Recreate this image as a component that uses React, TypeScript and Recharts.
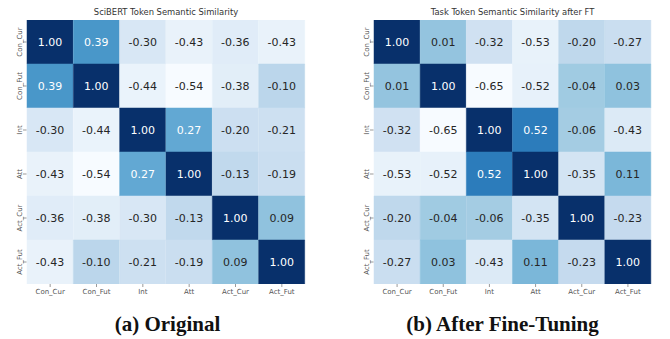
import React from 'react';
import { BarChart, Bar, XAxis, YAxis, Cell, LabelList } from 'recharts';

const labels = ['Con_Cur', 'Con_Fut', 'Int', 'Att', 'Act_Cur', 'Act_Fut'];

const scibertMatrix = [
  [1.0, 0.39, -0.3, -0.43, -0.36, -0.43],
  [0.39, 1.0, -0.44, -0.54, -0.38, -0.1],
  [-0.3, -0.44, 1.0, 0.27, -0.2, -0.21],
  [-0.43, -0.54, 0.27, 1.0, -0.13, -0.19],
  [-0.36, -0.38, -0.3, -0.13, 1.0, 0.09],
  [-0.43, -0.1, -0.21, -0.19, 0.09, 1.0],
];

const taskMatrix = [
  [1.0, 0.01, -0.32, -0.53, -0.2, -0.27],
  [0.01, 1.0, -0.65, -0.52, -0.04, 0.03],
  [-0.32, -0.65, 1.0, 0.52, -0.06, -0.43],
  [-0.53, -0.52, 0.52, 1.0, -0.35, 0.11],
  [-0.2, -0.04, -0.06, -0.35, 1.0, -0.23],
  [-0.27, 0.03, -0.43, 0.11, -0.23, 1.0],
];

const titles = ['SciBERT Token Semantic Similarity', 'Task Token Semantic Similarity after FT'];
const captions = ['(a) Original', '(b) After Fine-Tuning'];

const BLUES = ['#f7fbff', '#deebf7', '#c6dbef', '#9ecae1', '#6baed6', '#4292c6', '#2171b5', '#08519c', '#08306b'];

function hexToRgb(h: string) {
  return [parseInt(h.slice(1, 3), 16), parseInt(h.slice(3, 5), 16), parseInt(h.slice(5, 7), 16)];
}

function blues(t: number): number[] {
  const c = Math.max(0, Math.min(1, t)) * (BLUES.length - 1);
  const i = Math.min(BLUES.length - 2, Math.floor(c));
  const f = c - i;
  const a = hexToRgb(BLUES[i]);
  const b = hexToRgb(BLUES[i + 1]);
  return a.map((v, k) => Math.round(v + (b[k] - v) * f));
}

function rgbStr(c: number[]) {
  return `rgb(${c[0]},${c[1]},${c[2]})`;
}

function luminance(c: number[]) {
  const lin = c.map((v) => {
    const s = v / 255;
    return s <= 0.03928 ? s / 12.92 : Math.pow((s + 0.055) / 1.055, 2.4);
  });
  return 0.2126 * lin[0] + 0.7152 * lin[1] + 0.0722 * lin[2];
}

const YTick = (props: any) => {
  const { x, y, payload } = props;
  const idx = Math.floor(payload.value);
  const bx = x - 5;
  return (
    <g>
      <line x1={x - 4} x2={x - 0.5} y1={y} y2={y} stroke="#555" strokeWidth={0.6} />
      <text
        x={bx}
        y={y}
        transform={`rotate(-90, ${bx}, ${y})`}
        textAnchor="middle"
        fontSize={7}
        fill="#555"
        fontFamily="DejaVu Sans"
      >
        {labels[idx]}
      </text>
    </g>
  );
};

const Heatmap = ({ matrix, left, plotLeft, plotRight, title, caption }: any) => {
  const flat = matrix.flat();
  const vmin = Math.min(...flat);
  const vmax = Math.max(...flat);
  const data = labels.map((name) => {
    const row: any = { name };
    labels.forEach((_, r) => {
      row['r' + r] = 1;
    });
    return row;
  });
  const W = 335;
  const H = 300;
  const yAxisW = 12;
  return (
    <div style={{ position: 'absolute', left, top: 0, width: W, height: 339 }}>
      <div
        style={{
          position: 'absolute',
          left: plotLeft,
          width: plotRight - plotLeft,
          top: 7,
          textAlign: 'center',
          fontFamily: 'DejaVu Sans',
          fontSize: 8.4,
          color: '#333',
          lineHeight: '10px',
        }}
      >
        {title}
      </div>
      <BarChart
        width={W}
        height={H}
        data={data}
        margin={{ top: 20, right: W - plotRight, left: plotLeft - yAxisW, bottom: 2 }}
        barCategoryGap={0}
        barGap={0}
      >
        <XAxis
          dataKey="name"
          axisLine={false}
          tickLine={{ stroke: '#555', strokeWidth: 0.6 }}
          tickSize={3}
          height={14}
          interval={0}
          tick={{ fontSize: 7, fill: '#555', fontFamily: 'DejaVu Sans' }}
        />
        <YAxis
          type="number"
          domain={[0, 6]}
          reversed
          ticks={[0.5, 1.5, 2.5, 3.5, 4.5, 5.5]}
          axisLine={false}
          tickLine={false}
          tickSize={0}
          tickMargin={0}
          width={yAxisW}
          tick={<YTick />}
          allowDataOverflow
        />
        {labels.map((_, r) => (
          <Bar key={r} dataKey={'r' + r} stackId="s" isAnimationActive={false}>
            {labels.map((__, c) => {
              const col = blues((matrix[r][c] - vmin) / (vmax - vmin));
              return <Cell key={c} fill={rgbStr(col)} stroke={rgbStr(col)} strokeWidth={0.5} />;
            })}
            <LabelList
              dataKey={'r' + r}
              content={(p: any) => {
                const c = p.index;
                const v = matrix[r][c];
                const col = blues((v - vmin) / (vmax - vmin));
                const txt = luminance(col) > 0.408 ? '#262626' : '#ffffff';
                return (
                  <text
                    x={p.x + p.width / 2}
                    y={p.y + p.height / 2}
                    textAnchor="middle"
                    dominantBaseline="central"
                    fontSize={11}
                    fontFamily="DejaVu Sans"
                    fill={txt}
                  >
                    {v.toFixed(2)}
                  </text>
                );
              }}
            />
          </Bar>
        ))}
      </BarChart>
      <div
        style={{
          position: 'absolute',
          left: 0,
          width: W,
          top: 313,
          textAlign: 'center',
          fontFamily: '"Liberation Serif"',
          fontWeight: 'bold',
          fontSize: 21,
          lineHeight: '22px',
          color: '#111',
        }}
      >
        {caption}
      </div>
    </div>
  );
}

export default function App() {
  return (
    <div style={{ position: 'absolute', left: 0, top: 0, width: 670, height: 339, background: '#fff', overflow: 'hidden' }}>
      <Heatmap matrix={scibertMatrix} left={0} plotLeft={27} plotRight={305} title={titles[0]} caption={captions[0]} />
      <Heatmap matrix={taskMatrix} left={335} plotLeft={39} plotRight={316} title={titles[1]} caption={captions[1]} />
    </div>
  );
}
